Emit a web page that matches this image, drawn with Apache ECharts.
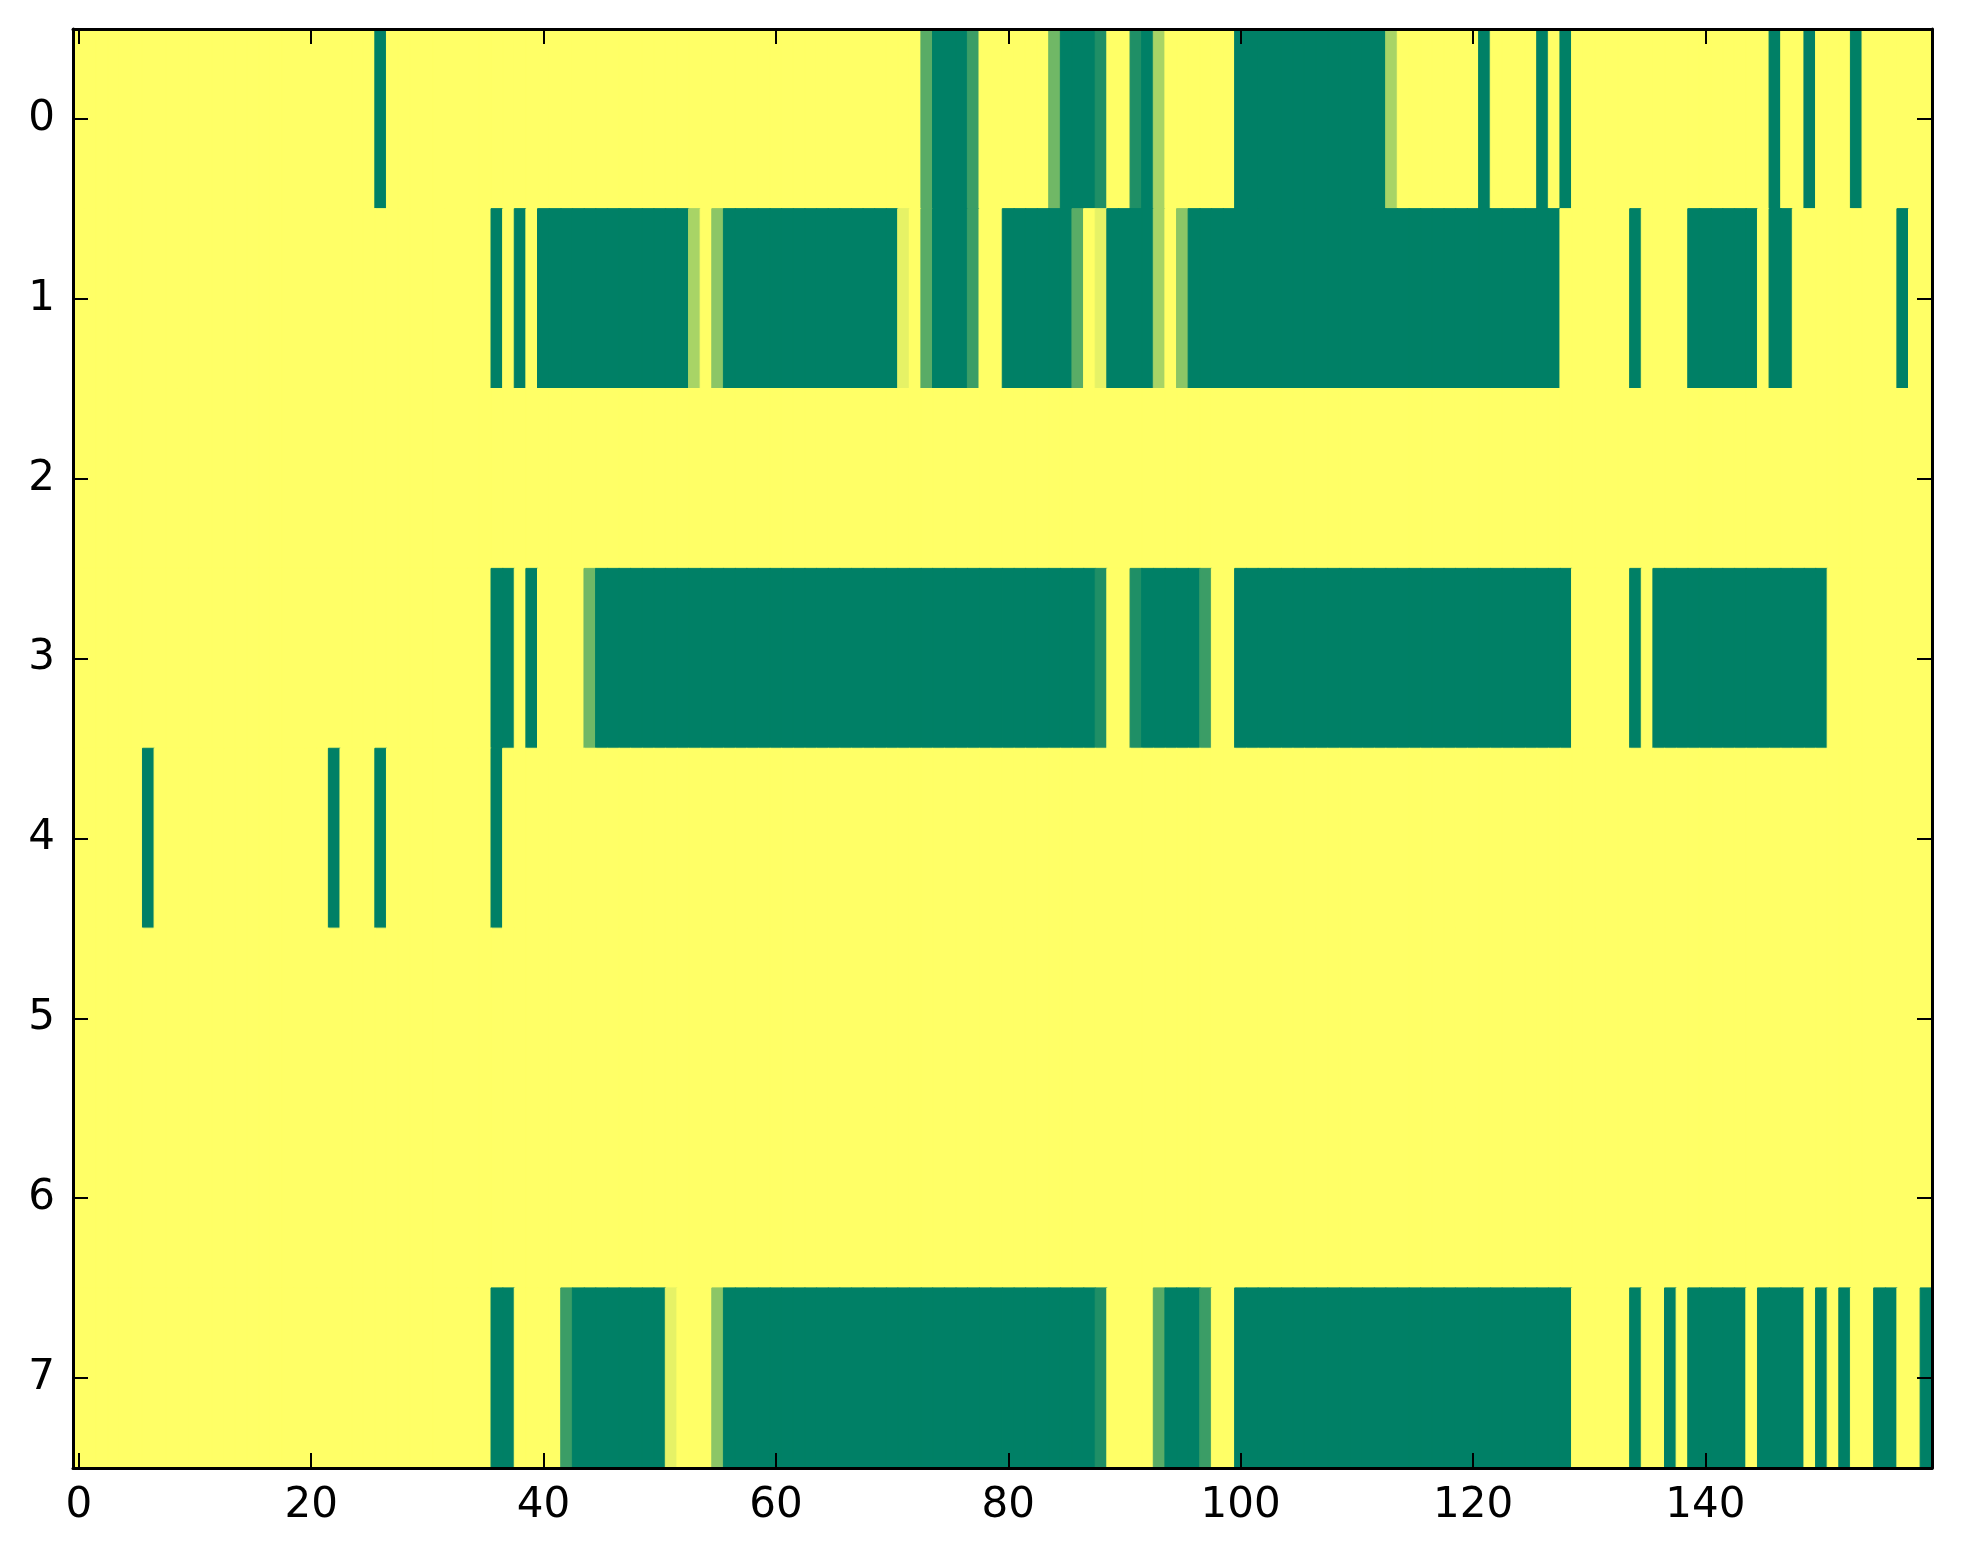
<!DOCTYPE html>
<html>
<head>
<meta charset="utf-8">
<script src="https://cdn.jsdelivr.net/npm/echarts@6/dist/echarts.min.js"></script>
<style>
  html, body { margin: 0; padding: 0; background: #fff; }
  #chart { width: 1963px; height: 1564px; }
</style>
</head>
<body>
<div id="chart"></div>
<script>
// Row labels (y categories) and x tick labels
const yCategories = ['0', '1', '2', '3', '4', '5', '6', '7'];
const xTickLabels = ['0', '20', '40', '60', '80', '100', '120', '140'];
const nColumns = 160;

// Cell values per row (0 = green, 1 = yellow), columns 0..159
const row0 = [
  1,1,1,1,1,1,1,1,1,1, 1,1,1,1,1,1,1,1,1,1,
  1,1,1,1,1,1,0,1,1,1, 1,1,1,1,1,1,1,1,1,1,
  1,1,1,1,1,1,1,1,1,1, 1,1,1,1,1,1,1,1,1,1,
  1,1,1,1,1,1,1,1,1,1, 1,1,1,0.35,0,0,0,0.23,1,1,
  1,1,1,1,0.44,0,0,0,0.12,1, 1,0.12,0,0.66,1,1,1,1,1,1,
  0,0,0,0,0,0,0,0,0,0, 0,0,0,0.66,1,1,1,1,1,1,
  1,0,1,1,1,1,0,1,0,1, 1,1,1,1,1,1,1,1,1,1,
  1,1,1,1,1,1,0,1,1,0, 1,1,1,0,1,1,1,1,1,1
];
const row1 = [
  1,1,1,1,1,1,1,1,1,1, 1,1,1,1,1,1,1,1,1,1,
  1,1,1,1,1,1,1,1,1,1, 1,1,1,1,1,1,0,1,0,1,
  0,0,0,0,0,0,0,0,0,0, 0,0,0,0.66,1,0.55,0,0,0,0,
  0,0,0,0,0,0,0,0,0,0, 0,0.9,1,0.35,0,0,0,0.23,1,1,
  0,0,0,0,0,0,0.35,1,0.9,0, 0,0,0,0.66,1,0.55,0,0,0,0,
  0,0,0,0,0,0,0,0,0,0, 0,0,0,0,0,0,0,0,0,0,
  0,0,0,0,0,0,0,0,1,1, 1,1,1,1,0,1,1,1,1,0,
  0,0,0,0,0,1,0,0,1,1, 1,1,1,1,1,1,1,0,1,1
];
const row2 = [
  1,1,1,1,1,1,1,1,1,1, 1,1,1,1,1,1,1,1,1,1,
  1,1,1,1,1,1,1,1,1,1, 1,1,1,1,1,1,1,1,1,1,
  1,1,1,1,1,1,1,1,1,1, 1,1,1,1,1,1,1,1,1,1,
  1,1,1,1,1,1,1,1,1,1, 1,1,1,1,1,1,1,1,1,1,
  1,1,1,1,1,1,1,1,1,1, 1,1,1,1,1,1,1,1,1,1,
  1,1,1,1,1,1,1,1,1,1, 1,1,1,1,1,1,1,1,1,1,
  1,1,1,1,1,1,1,1,1,1, 1,1,1,1,1,1,1,1,1,1,
  1,1,1,1,1,1,1,1,1,1, 1,1,1,1,1,1,1,1,1,1
];
const row3 = [
  1,1,1,1,1,1,1,1,1,1, 1,1,1,1,1,1,1,1,1,1,
  1,1,1,1,1,1,1,1,1,1, 1,1,1,1,1,1,0,0,1,0,
  1,1,1,1,0.44,0,0,0,0,0, 0,0,0,0,0,0,0,0,0,0,
  0,0,0,0,0,0,0,0,0,0, 0,0,0,0,0,0,0,0,0,0,
  0,0,0,0,0,0,0,0,0.12,1, 1,0.12,0,0,0,0,0,0.23,1,1,
  0,0,0,0,0,0,0,0,0,0, 0,0,0,0,0,0,0,0,0,0,
  0,0,0,0,0,0,0,0,0,1, 1,1,1,1,0,1,0,0,0,0,
  0,0,0,0,0,0,0,0,0,0, 0,1,1,1,1,1,1,1,1,1
];
const row4 = [
  1,1,1,1,1,1,0,1,1,1, 1,1,1,1,1,1,1,1,1,1,
  1,1,0,1,1,1,0,1,1,1, 1,1,1,1,1,1,0,1,1,1,
  1,1,1,1,1,1,1,1,1,1, 1,1,1,1,1,1,1,1,1,1,
  1,1,1,1,1,1,1,1,1,1, 1,1,1,1,1,1,1,1,1,1,
  1,1,1,1,1,1,1,1,1,1, 1,1,1,1,1,1,1,1,1,1,
  1,1,1,1,1,1,1,1,1,1, 1,1,1,1,1,1,1,1,1,1,
  1,1,1,1,1,1,1,1,1,1, 1,1,1,1,1,1,1,1,1,1,
  1,1,1,1,1,1,1,1,1,1, 1,1,1,1,1,1,1,1,1,1
];
const row5 = [
  1,1,1,1,1,1,1,1,1,1, 1,1,1,1,1,1,1,1,1,1,
  1,1,1,1,1,1,1,1,1,1, 1,1,1,1,1,1,1,1,1,1,
  1,1,1,1,1,1,1,1,1,1, 1,1,1,1,1,1,1,1,1,1,
  1,1,1,1,1,1,1,1,1,1, 1,1,1,1,1,1,1,1,1,1,
  1,1,1,1,1,1,1,1,1,1, 1,1,1,1,1,1,1,1,1,1,
  1,1,1,1,1,1,1,1,1,1, 1,1,1,1,1,1,1,1,1,1,
  1,1,1,1,1,1,1,1,1,1, 1,1,1,1,1,1,1,1,1,1,
  1,1,1,1,1,1,1,1,1,1, 1,1,1,1,1,1,1,1,1,1
];
const row6 = [
  1,1,1,1,1,1,1,1,1,1, 1,1,1,1,1,1,1,1,1,1,
  1,1,1,1,1,1,1,1,1,1, 1,1,1,1,1,1,1,1,1,1,
  1,1,1,1,1,1,1,1,1,1, 1,1,1,1,1,1,1,1,1,1,
  1,1,1,1,1,1,1,1,1,1, 1,1,1,1,1,1,1,1,1,1,
  1,1,1,1,1,1,1,1,1,1, 1,1,1,1,1,1,1,1,1,1,
  1,1,1,1,1,1,1,1,1,1, 1,1,1,1,1,1,1,1,1,1,
  1,1,1,1,1,1,1,1,1,1, 1,1,1,1,1,1,1,1,1,1,
  1,1,1,1,1,1,1,1,1,1, 1,1,1,1,1,1,1,1,1,1
];
const row7 = [
  1,1,1,1,1,1,1,1,1,1, 1,1,1,1,1,1,1,1,1,1,
  1,1,1,1,1,1,1,1,1,1, 1,1,1,1,1,1,0,0,1,1,
  1,1,0.23,0,0,0,0,0,0,0, 0,0.9,1,1,1,0.55,0,0,0,0,
  0,0,0,0,0,0,0,0,0,0, 0,0,0,0,0,0,0,0,0,0,
  0,0,0,0,0,0,0,0,0.12,1, 1,1,1,0.35,0,0,0,0.23,1,1,
  0,0,0,0,0,0,0,0,0,0, 0,0,0,0,0,0,0,0,0,0,
  0,0,0,0,0,0,0,0,0,1, 1,1,1,1,0,1,1,0,1,0,
  0,0,0,0,1,0,0,0,0,1, 0,1,0,1,1,0,0,1,1,0
];
const rows = [row0, row1, row2, row3, row4, row5, row6, row7];

const xCategories = [];
for (let i = 0; i < nColumns; i++) xCategories.push(String(i));

// matplotlib "summer" colormap endpoints (used for fill via visualMap and as matching cell edge colour)
function summerColor(v) {
  const r = Math.round(255 * v), g = Math.round(255 * (0.5 + 0.5 * v)), b = 102;
  return 'rgb(' + r + ',' + g + ',' + b + ')';
}

const cells = [];
rows.forEach((r, yi) => r.forEach((v, xi) => cells.push({
  value: [xi, yi, v],
  itemStyle: { borderColor: summerColor(v), borderWidth: 1 }
})));

const font = { fontFamily: 'DejaVu Sans', fontSize: 42, color: '#000' };
const lineStyle = { color: '#000', width: 3 };
const tickStyle = { color: '#000', width: 2 };

const chart = echarts.init(document.getElementById('chart'), null, { renderer: 'canvas' });
chart.setOption({
  animation: false,
  backgroundColor: '#fff',
  grid: { left: 73, top: 29, width: 1859, height: 1439, containLabel: false },
  xAxis: [
    {
      type: 'category', data: xCategories, position: 'bottom', z: 10,
      axisLine: { show: true, lineStyle: lineStyle },
      axisTick: { show: true, inside: true, length: 15, alignWithLabel: true, interval: 19, lineStyle: tickStyle },
      axisLabel: Object.assign({ interval: 19, margin: 17,
        formatter: v => (xTickLabels.indexOf(v) >= 0 ? v : '') }, font),
      splitLine: { show: false }
    },
    {
      type: 'category', data: xCategories, position: 'top', z: 10,
      axisLine: { show: true, lineStyle: lineStyle },
      axisTick: { show: true, inside: true, length: 15, alignWithLabel: true, interval: 19, lineStyle: tickStyle },
      axisLabel: { show: false },
      splitLine: { show: false }
    }
  ],
  yAxis: [
    {
      type: 'category', data: yCategories, inverse: true, position: 'left', z: 10,
      axisLine: { show: true, lineStyle: lineStyle },
      axisTick: { show: true, inside: true, length: 15, alignWithLabel: true, lineStyle: tickStyle },
      axisLabel: Object.assign({ margin: 18 }, font),
      splitLine: { show: false }
    },
    {
      type: 'category', data: yCategories, inverse: true, position: 'right', z: 10,
      axisLine: { show: true, lineStyle: lineStyle },
      axisTick: { show: true, inside: true, length: 15, alignWithLabel: true, lineStyle: tickStyle },
      axisLabel: { show: false },
      splitLine: { show: false }
    }
  ],
  visualMap: {
    show: false, type: 'continuous', min: 0, max: 1, dimension: 2,
    inRange: { color: ['#008066', '#ffff66'] }
  },
  series: [{
    type: 'heatmap',
    xAxisIndex: 0, yAxisIndex: 0,
    data: cells,
    emphasis: { disabled: true },
    progressive: 0
  }]
});
</script>
</body>
</html>
